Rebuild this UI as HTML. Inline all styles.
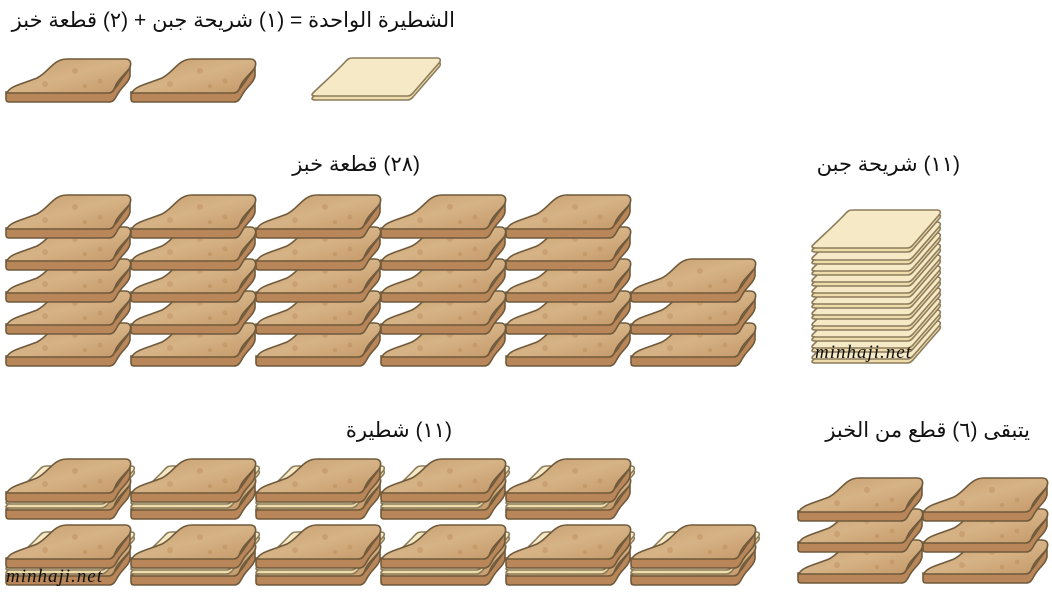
<!DOCTYPE html>
<html><head><meta charset="utf-8">
<style>
body{margin:0;background:#fff;}
.w{position:relative;width:1052px;height:606px;overflow:hidden;}
.t{position:absolute;font-family:"Liberation Sans","Noto Sans CJK SC","DejaVu Sans",sans-serif;font-size:21px;color:#111;direction:rtl;white-space:nowrap;}
.wm{font-family:"Liberation Serif",serif;font-style:italic;font-size:19px;fill:#111;letter-spacing:1px;}
</style></head><body><div class="w">
<svg width="1052" height="606" style="position:absolute;left:0;top:0">
<defs>
<linearGradient id="bg" x1="0" y1="0" x2="1" y2="1">
<stop offset="0" stop-color="#c59c6c"/><stop offset="0.5" stop-color="#d6b386"/><stop offset="1" stop-color="#c49868"/></linearGradient>
<g id="b">
<path d="M1,36 L104,36 C108,36 112,30 116,24 C120,18 124,15 125,10 L125,20 C124,26 118,30 114,36 C111,40 110,46 104,46 L4,46 C2,46 1,45 1,43 Z" fill="#b98659" stroke="#6f5a3c" stroke-width="1.6"/>
<path d="M2,37 C4,30 20,27 32,22 C44,16 48,3 62,3 L120,3 C126,3 127,8 124,13 C118,20 112,25 110,31 C109,35 107,37 103,37 Z" fill="url(#bg)" stroke="#6f5a3c" stroke-width="1.6"/>
<circle cx="40" cy="28" r="3" fill="#b98658" opacity=".4"/><circle cx="70" cy="15" r="3" fill="#b98658" opacity=".4"/><circle cx="95" cy="25" r="2.5" fill="#b98658" opacity=".4"/><circle cx="80" cy="30" r="2" fill="#b38050" opacity=".4"/>
</g>
<g id="c">
<path d="M2,40 C10,32 25,19 35,8 C37,6 38,5 42,5 L126,5 C130,5 130,8 128,10 L102,40 C100,42 99,43 96,43 L5,43 C1,43 0,42 2,40 Z" fill="#eedcaa" stroke="#8c7c5c" stroke-width="1.6"/>
<path d="M2,36 C10,28 25,15 35,4 C37,2 38,1 42,1 L126,1 C130,1 130,4 128,6 L102,36 C100,38 99,39 96,39 L5,39 C1,39 0,38 2,36 Z" fill="#f6e9c6" stroke="#8c7c5c" stroke-width="1.6"/>
</g>
<g id="s">
<use href="#b" y="17"/><use href="#c" x="0" y="9"/><use href="#b"/>
</g>
</defs>
<use href="#b" x="5" y="56"/><use href="#b" x="130" y="56"/>
<use href="#c" x="311" y="57"/>
<g id="st">
<use href="#b" x="5" y="320"/><use href="#b" x="5" y="288"/><use href="#b" x="5" y="256"/><use href="#b" x="5" y="224"/><use href="#b" x="5" y="192"/>
</g>
<use href="#st" x="125"/><use href="#st" x="250"/><use href="#st" x="375"/><use href="#st" x="500"/>
<use href="#b" x="630" y="320"/><use href="#b" x="630" y="288"/><use href="#b" x="630" y="256"/>
<g>
<use href="#c" x="811" y="320"/><use href="#c" x="811" y="309"/><use href="#c" x="811" y="298"/><use href="#c" x="811" y="287"/><use href="#c" x="811" y="276"/><use href="#c" x="811" y="265"/><use href="#c" x="811" y="254"/><use href="#c" x="811" y="243"/><use href="#c" x="811" y="232"/><use href="#c" x="811" y="221"/><use href="#c" x="811" y="209"/>
</g>
<text class="wm" x="815" y="358">minhaji.net</text>
<g id="sc"><use href="#s" x="5" y="522"/><use href="#s" x="5" y="456"/></g>
<use href="#sc" x="125"/><use href="#sc" x="250"/><use href="#sc" x="375"/><use href="#sc" x="500"/>
<use href="#s" x="630" y="522"/>
<text class="wm" x="6" y="582">minhaji.net</text>
<g id="lo"><use href="#b" x="797" y="537"/><use href="#b" x="797" y="506"/><use href="#b" x="797" y="475"/></g>
<use href="#lo" x="125"/>
</svg>
<div class="t" style="right:597px;top:8px;">الشطيرة الواحدة = (١) شريحة جبن + (٢) قطعة خبز</div>
<div class="t" style="right:632px;top:152px;">(٢٨) قطعة خبز</div>
<div class="t" style="right:92px;top:152px;">(١١) شريحة جبن</div>
<div class="t" style="right:600px;top:418px;">(١١) شطيرة</div>
<div class="t" style="right:22px;top:418px;">يتبقى (٦) قطع من الخبز</div>
</div></body></html>
